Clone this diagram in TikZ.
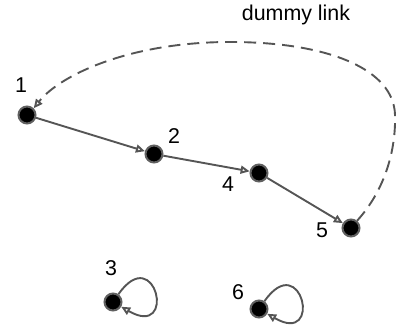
\documentclass[tikz,border=0pt]{standalone}
\usepackage{fontspec}
\setmainfont{Liberation Sans}
\usetikzlibrary{arrows.meta}
\definecolor{linegray}{HTML}{555555}
\definecolor{rimgray}{HTML}{606060}
\begin{document}
\begin{tikzpicture}[x=1pt,y=-1pt,
  vertex/.style={circle,fill=black,draw=rimgray,line width=2pt,minimum size=17pt,inner sep=0pt},
  lbl/.style={font=\fontsize{21.4}{21.4}\selectfont,inner sep=0pt,anchor=base},
  link/.style={draw=linegray,line width=1.9pt,-{Triangle[open,length=9pt,width=8pt]}},
  dummy/.style={link,dash pattern=on 12pt off 7pt}]
\useasboundingbox (0,0) rectangle (396,331);
% vertices
\node[vertex] (n1) at (27,115) {};
\node[vertex] (n2) at (154,154) {};
\node[vertex] (n4) at (259,173) {};
\node[vertex] (n5) at (351,228) {};
\node[vertex] (n3) at (113,302) {};
\node[vertex] (n6) at (259,309) {};
% labels (base line positions)
\node[lbl] (l1) at (21,93) {1};
\node[lbl] (l2) at (174,144) {2};
\node[lbl] (l4) at (228,192) {4};
\node[lbl] (l5) at (322,237) {5};
\node[lbl] (l3) at (111,275) {3};
\node[lbl] (l6) at (238,299) {6};
\node[lbl] (ld) at (296,21) {dummy link};
% chain of links
\draw[link] (n1) -- (n2);
\draw[link] (n2) -- (n4);
\draw[link] (n4) -- (n5);
% self loops
\draw[link] (n3) to[out=55,in=-30,distance=65pt] (n3);
\draw[link] (n6) to[out=55,in=-30,distance=65pt] (n6);
% dummy link from 5 back to 1
\draw[dummy] (n5.50) .. controls (385,190) and (396,150) .. (395,115)
  .. controls (394,70) and (330,42) .. (230,42)
  .. controls (130,42) and (60,75) .. (n1.45);
\end{tikzpicture}
\end{document}
